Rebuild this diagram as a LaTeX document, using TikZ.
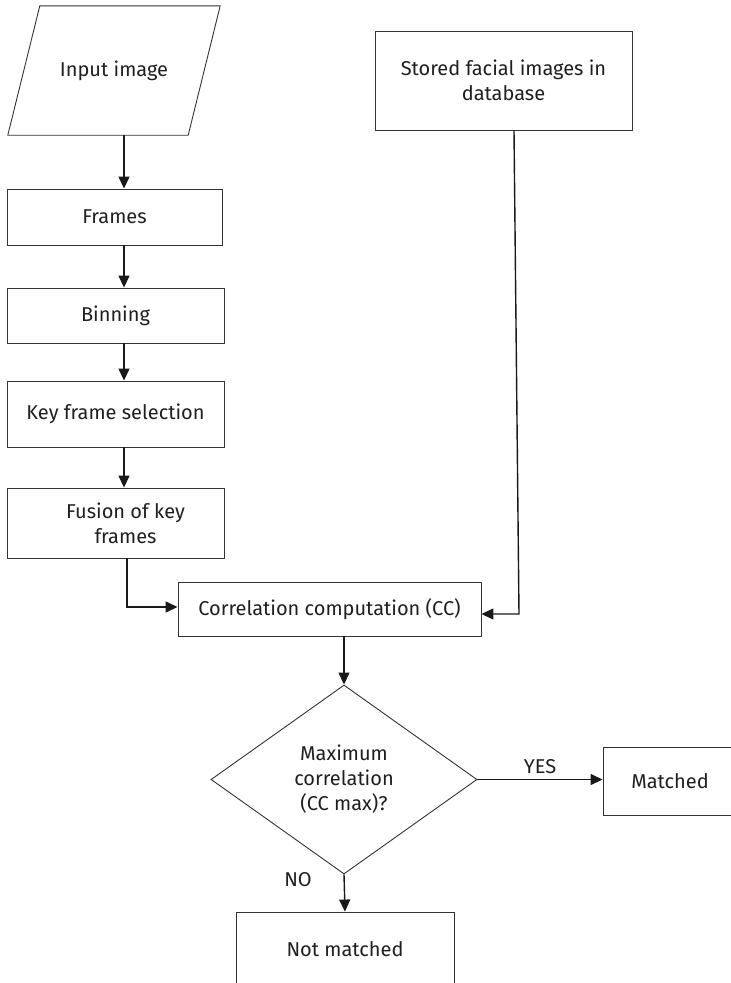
\documentclass[tikz,border=0pt]{standalone}
\usepackage{fontspec}
\setmainfont{Fira Sans}
\usetikzlibrary{shapes.geometric,arrows.meta}
\begin{document}
\begin{tikzpicture}[x=1pt,y=-1pt,
  every node/.style={font=\fontsize{20}{25}\selectfont, text=black!88},
  box/.style={draw=black!80, line width=0.9pt, rectangle, inner sep=0pt, align=center},
  arr/.style={line width=1.4pt, draw=black!90, -{Triangle[length=12pt,width=11pt]}}]
\useasboundingbox (0,0) rectangle (731,983);

% left column
\node[inner sep=0pt, minimum width=180pt, minimum height=129pt] (input) at (114,70.5) {Input image};
\draw[draw=black!80, line width=0.9pt]
  ([xshift=-16pt]input.south west) -- ([xshift=16pt]input.north west)
  -- ([xshift=16pt]input.north east) -- ([xshift=-16pt]input.south east) -- cycle;
\node[box, minimum width=215pt, minimum height=56pt] (frames) at (114.5,217) {Frames};
\node[box, minimum width=217pt, minimum height=55pt] (binning) at (115.5,315.5) {Binning};
\node[box, minimum width=217pt, minimum height=66pt] (keysel) at (115.5,414) {Key frame selection};
\node[box, minimum width=217pt, minimum height=70pt] (fusion) at (115.5,523)
      {\hspace*{20pt}Fusion of key\\\hspace*{20pt}frames};

% database
\node[box, minimum width=257pt, minimum height=99pt] (stored) at (503.5,80.5)
      {Stored facial images in\\database};

% comparison and decision
\node[box, minimum width=303pt, minimum height=54pt] (corr) at (329.5,609)
      {Correlation computation (CC)};
\node[draw=black!80, line width=0.9pt, diamond, inner sep=0pt, align=center,
      minimum width=266pt, minimum height=189pt] (dec) at (344,779.5)
      {Maximum\\correlation\\(CC max)?};
\node[box, minimum width=134pt, minimum height=68pt] (matched) at (670,781) {Matched};
\node[box, minimum width=218pt, minimum height=74pt] (nomatch) at (345,949) {Not matched};

% connectors
\coordinate (spine) at (124,0);
\draw[arr] (input.south -| spine) -- (frames.north -| spine);
\draw[arr] (frames.south -| spine) -- (binning.north -| spine);
\draw[arr] (binning.south -| spine) -- (keysel.north -| spine);
\draw[arr] (keysel.south -| spine) -- (fusion.north -| spine);

\coordinate (fbend) at (127,607);
\draw[arr] (fusion.south -| fbend) -- (fbend) -- (corr.west |- fbend);

\coordinate (sx) at (514,0);
\coordinate (sbend) at (519,614);
\draw[arr] (stored.south -| sx) -- (sbend) -- (corr.east |- sbend);

\draw[arr] (corr.south -| dec.north) -- (dec.north);
\draw[arr] (dec.east) -- (matched.west |- dec.east)
      node[midway, above=2pt] (yes) {YES};
\draw[arr] (dec.south) -- (nomatch.north);
\node (no) at (298,880) {NO};
\end{tikzpicture}
\end{document}
